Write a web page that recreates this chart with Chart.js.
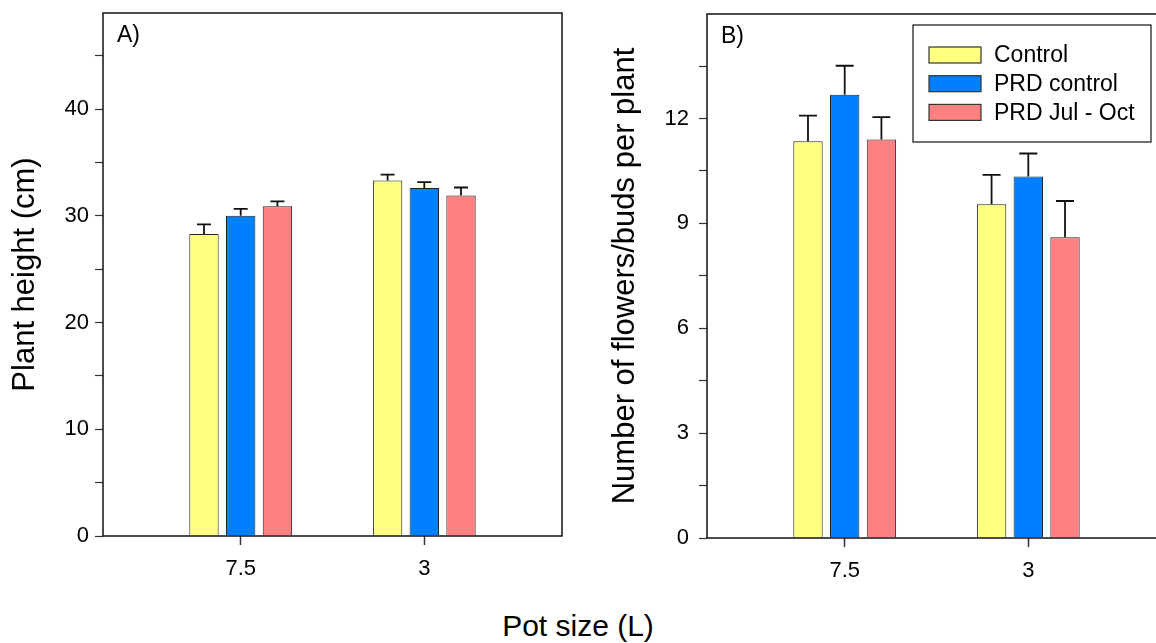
<!DOCTYPE html>
<html>
<head>
<meta charset="utf-8">
<script src="https://cdn.jsdelivr.net/npm/chart.js@4.4.0/dist/chart.umd.min.js"></script>
<style>
  html, body { margin: 0; padding: 0; overflow: hidden; background: #fff; }
  body { width: 1156px; height: 643px; position: relative; font-family: "Liberation Sans", Arial, sans-serif; }
  #boxA { position: absolute; left: 0; top: 0; width: 580px; height: 600px; }
  #boxB { position: absolute; left: 590px; top: 0; width: 590px; height: 600px; }
  #xtitle { position: absolute; left: 0; top: 609px; width: 1156px; text-align: center; font-size: 30px; color: #000; }
</style>
</head>
<body>
<div id="boxA"><canvas id="chartA"></canvas></div>
<div id="boxB"><canvas id="chartB"></canvas></div>
<div id="xtitle">Pot size (L)</div>
<script>
// DATA
const potSizes = ["7.5", "3"];
const seriesNames = ["Control", "PRD control", "PRD Jul - Oct"];
const seriesColors = ["#FFFF80", "#0080FF", "#FF8080"];

// A) plant height (cm)
const heightControl = [28.3, 33.3];
const heightPrdControl = [30.0, 32.6];
const heightPrdJulOct = [30.9, 31.9];
const heightControlErr = [0.9, 0.55];
const heightPrdControlErr = [0.65, 0.55];
const heightPrdJulOctErr = [0.45, 0.75];

// B) flowers/buds per plant
const flowersControl = [11.35, 9.55];
const flowersPrdControl = [12.68, 10.34];
const flowersPrdJulOct = [11.4, 8.6];
const flowersControlErr = [0.73, 0.84];
const flowersPrdControlErr = [0.83, 0.66];
const flowersPrdJulOctErr = [0.64, 1.04];

// empty slots either side so the groups sit at 30% / 70% of the axis
const slotLabels = ["", potSizes[0], "", potSizes[1], ""];
function toSlots(arr) {
  return [null, arr[0], null, arr[1], null];
}

const FONT = "'Liberation Sans', Arial, sans-serif";
Chart.defaults.font.family = FONT;
Chart.defaults.color = "#000";
Chart.defaults.animation = false;

// ERROR BARS (upwards only)
const errorBars = {
  id: "errorBars",
  afterDatasetsDraw(chart, args, opts) {
    const ctx = chart.ctx;
    const y = chart.scales.y;
    ctx.save();
    ctx.strokeStyle = "#111";
    ctx.lineWidth = 1.8;
    chart.data.datasets.forEach((ds, i) => {
      const meta = chart.getDatasetMeta(i);
      meta.data.forEach((bar, j) => {
        const v = ds.data[j];
        const e = ds.errors[j];
        if (v == null || e == null) return;
        const yTop = y.getPixelForValue(v + e);
        ctx.beginPath();
        ctx.moveTo(bar.x, bar.y);
        ctx.lineTo(bar.x, yTop);
        ctx.moveTo(bar.x - opts.cap / 2, yTop);
        ctx.lineTo(bar.x + opts.cap / 2, yTop);
        ctx.stroke();
      });
    });
    ctx.restore();
  },
};

// FRAME + PANEL LETTER + LEGEND
const decorations = {
  id: "decorations",
  afterDraw(chart, args, opts) {
    const ctx = chart.ctx;
    const a = chart.chartArea;
    ctx.save();
    ctx.strokeStyle = "#111";
    ctx.lineWidth = 1.5;
    ctx.strokeRect(a.left, a.top, a.right - a.left, a.bottom - a.top);

    ctx.fillStyle = "#000";
    ctx.font = "23px " + FONT;
    ctx.textBaseline = "top";
    ctx.fillText(opts.letter, a.left + 14, a.top + 11);

    if (opts.legend) {
      const lx = a.left + 206, ly = a.top + 11, lw = 238, lh = 117;
      ctx.lineWidth = 1.2;
      ctx.strokeRect(lx, ly, lw, lh);
      ctx.font = "23px " + FONT;
      ctx.textBaseline = "middle";
      chart.data.datasets.forEach((ds, i) => {
        const cy = ly + 30 + i * 28.7;
        ctx.fillStyle = ds.backgroundColor;
        ctx.fillRect(lx + 16, cy - 8, 52, 16);
        ctx.strokeStyle = "#333";
        ctx.strokeRect(lx + 16, cy - 8, 52, 16);
        ctx.fillStyle = "#000";
        ctx.fillText(ds.label, lx + 81, cy + 1);
      });
    }
    ctx.restore();
  },
};

function makeDatasets(values, errors) {
  return values.map((vals, i) => ({
    label: seriesNames[i],
    data: toSlots(vals),
    errors: toSlots(errors[i]),
    backgroundColor: seriesColors[i],
    borderColor: "#222",
    borderWidth: 1,
    categoryPercentage: 1.2,
    barPercentage: 0.8,
  }));
}

function xAxis(height) {
  return {
    offset: true,
    grid: {
      offset: false,
      drawOnChartArea: false,
      tickLength: 9,
      tickWidth: 1.5,
      color: (c) => (c.index % 2 === 1 ? "#333" : "rgba(0,0,0,0)"),
      tickColor: (c) => (c.index % 2 === 1 ? "#333" : "rgba(0,0,0,0)"),
    },
    border: { display: false },
    ticks: { font: { size: 22 }, color: "#000", padding: 11, autoSkip: false, maxRotation: 0 },
    afterFit: (s) => {
      s.height = height;
      s.paddingLeft = 0;
      s.paddingRight = 0;
    },
  };
}

function yAxis(max, step, labelStep, title, width, titlePad, tickPad) {
  return {
    min: 0,
    max: max,
    grid: { drawOnChartArea: false, tickLength: 8, tickWidth: 1.2, tickColor: "#333" },
    border: { display: false },
    ticks: {
      stepSize: step,
      includeBounds: false,
      font: { size: 22 },
      color: "#000",
      padding: tickPad,
      callback: (v) => (Math.abs(v / labelStep - Math.round(v / labelStep)) < 1e-6 ? v : ""),
    },
    title: { display: true, text: title, font: { size: 31 }, color: "#000", padding: { top: titlePad, bottom: 0 } },
    afterFit: (s) => {
      s.width = width;
      s.paddingTop = 0;
      s.paddingBottom = 0;
    },
  };
}

// PANEL A
new Chart(document.getElementById("chartA"), {
  type: "bar",
  data: {
    labels: slotLabels,
    datasets: makeDatasets(
      [heightControl, heightPrdControl, heightPrdJulOct],
      [heightControlErr, heightPrdControlErr, heightPrdJulOctErr]
    ),
  },
  options: {
    responsive: true,
    maintainAspectRatio: false,
    layout: { padding: { top: 13, right: 18, left: 0, bottom: 0 } },
    plugins: {
      legend: { display: false },
      tooltip: { enabled: false },
      errorBars: { cap: 14 },
      decorations: { letter: "A)", legend: false },
    },
    scales: {
      x: xAxis(64),
      y: yAxis(49, 5, 10, "Plant height (cm)", 103, 7, 6),
    },
  },
  plugins: [errorBars, decorations],
});

// PANEL B
new Chart(document.getElementById("chartB"), {
  type: "bar",
  data: {
    labels: slotLabels,
    datasets: makeDatasets(
      [flowersControl, flowersPrdControl, flowersPrdJulOct],
      [flowersControlErr, flowersPrdControlErr, flowersPrdJulOctErr]
    ),
  },
  options: {
    responsive: true,
    maintainAspectRatio: false,
    layout: { padding: { top: 14, right: 14, left: 0, bottom: 0 } },
    plugins: {
      legend: { display: false },
      tooltip: { enabled: false },
      errorBars: { cap: 18 },
      decorations: { letter: "B)", legend: true },
    },
    scales: {
      x: xAxis(62),
      y: yAxis(14.99, 1.5, 3, "Number of flowers/buds per plant", 117, 17, 10),
    },
  },
  plugins: [errorBars, decorations],
});
</script>
</body>
</html>
